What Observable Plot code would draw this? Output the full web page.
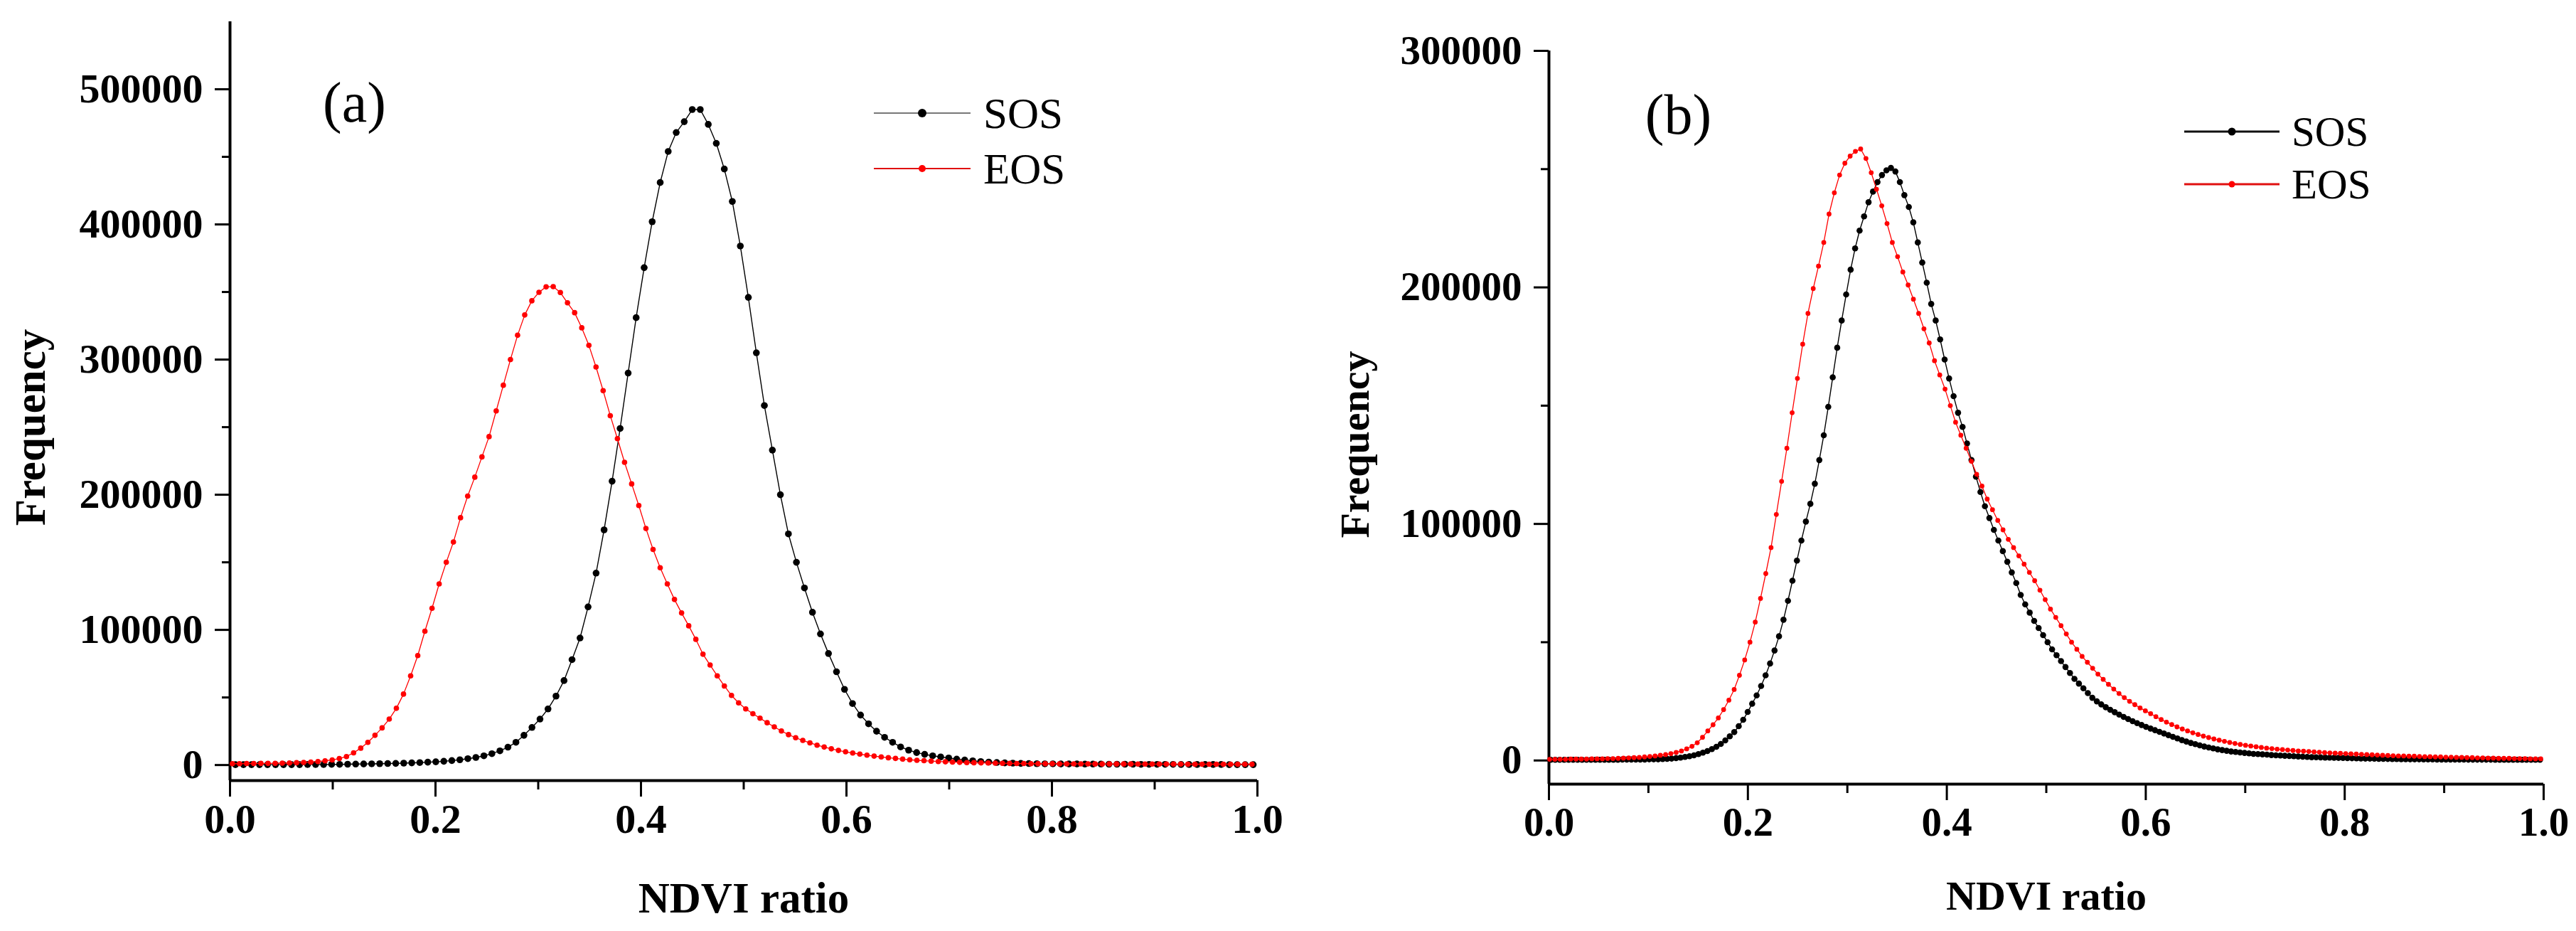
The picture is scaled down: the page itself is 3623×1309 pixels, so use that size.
<!DOCTYPE html>
<html>
<head>
<meta charset="utf-8">
<script src="https://cdn.jsdelivr.net/npm/d3@7"></script>
<script src="https://cdn.jsdelivr.net/npm/@observablehq/plot@0.6"></script>
<style>
  html, body { margin: 0; padding: 0; background: #fff; }
  #wrap { position: relative; width: 3623px; height: 1309px; overflow: hidden; background: #fff; }
  #chartA, #chartB { position: absolute; top: 0; }
  #chartA { left: 0; }
  #chartB { left: 1811px; }
</style>
</head>
<body>
<div id="wrap"><div id="chartA"></div><div id="chartB"></div></div>
<script>
// NDVI ratio bins (start, width) and frequencies in thousands

// (a) SOS
const sosAStart = 0.0053, sosAStep = 0.0078
const sosA = [
  0.3,0.3,0.3,0.3,0.3,0.3,0.3,0.3,0.3,0.4,0.4,0.4,
  0.5,0.5,0.6,0.7,0.8,0.9,1.0,1.1,1.2,
  1.4,1.6,1.8,2.1,2.4,2.8,3.3,3.9,4.7,5.6,
  6.8,8.4,10.5,13.2,16.8,22,27.8,34,41.5,51,
  62.5,78,94,117,142,174,210,249,290,331,
  368,402,431,454,468,476,485,485,474,460,
  441,417,384,346,305,266,233,200,171,150,
  131,113,97,82.5,69,56,45.5,37,30.5,25,
  20.5,16.8,13.4,11,9.2,7.9,6.8,6.0,5.2,4.4,
  3.7,3.1,2.6,2.2,1.9,1.6,1.4,1.2,1.1,1.0,
  0.9,0.9,0.8,0.8,0.8,0.7,0.7,0.7,0.6,0.6,
  0.6,0.6,0.5,0.5,0.5,0.5,0.5,0.4,0.4,0.4,
  0.4,0.4,0.4,0.3,0.3,0.3,0.3
]

// (a) EOS
const eosAStart = 0.0023, eosAStep = 0.00694
const eosA = [
  1.0,1.0,1.1,1.1,1.2,1.2,1.3,1.4,1.5,1.7,
  1.9,2.2,2.6,3.1,3.8,4.8,6.3,9.0,12.5,16.8,
  22,27.5,34,42,52.5,66,81,99,116,134,
  150,165,183,199,213,228,243,262,281,300,
  318,333,343.5,349.8,353.8,354,349.6,342,334.7,323.5,
  310.5,294.5,277,258.5,241.5,224,208,192,175,159.5,
  146,134,122.5,112.5,103,93,82,74,66,58.5,
  51.5,46,41.5,38,34.7,31.3,28.2,25.2,22.5,20.2,
  18.2,16.4,14.7,13.3,12.0,10.8,9.8,8.9,8.1,7.3,
  6.6,6.0,5.4,4.9,4.4,3.9,3.5,3.2,2.9,2.6,
  2.4,2.2,2.0,1.8,1.7,1.6,1.5,1.4,1.3,1.2,1.1,
  1.1,1.0,1.0,1.0,1.0,0.9,0.9,0.9,0.9,0.9,
  0.8,0.8,0.8,0.8,0.8,0.8,0.7,0.7,0.7,0.7,
  0.7,0.7,0.7,0.6,0.6,0.6,0.6,0.6,0.6,0.6,
  0.6,0.6,0.6
]

// (b) SOS
const sosBStart = 0.0018, sosBStep = 0.0045
const sosB = [
  0.3,0.3,0.3,0.3,0.3,0.3,0.3,0.3,0.3,0.3,0.3,0.3,0.3,0.3,0.3,0.3,0.4,0.4,0.4,0.4,
  0.4,0.4,0.5,0.5,0.5,0.6,0.7,0.8,1.0,1.2,
  1.5,1.8,2.2,2.7,3.3,4.0,4.8,5.8,7.0,8.5,
  10.2,12.0,14.5,17.2,20.5,24,27.5,31.5,36,41,
  46.5,52.5,59.5,67.5,76,84.5,93,101,108.5,117,
  127,137.5,149.5,162,174.5,186,197,207.5,216.5,224,
  230,236,240.5,244.5,247.5,249.5,250.5,249,244.5,239,
  234,227.5,219,210.5,202,193,186,178,169.5,161.5,
  154,147,141,134,127,120,113.5,107.5,102.5,97.5,
  93,88.5,84,79.5,75,70,66,62.5,59,56,
  53,50,47,44.5,42,39.5,37,34.5,32.5,30.5,
  28.5,26.5,25,23.7,22.5,21.4,20.4,19.4,18.4,17.5,
  16.6,15.8,15.0,14.2,13.5,12.8,12.1,11.4,10.7,10.0,
  9.3,8.6,8.0,7.4,6.9,6.4,5.9,5.5,5.1,4.7,
  4.4,4.1,3.8,3.6,3.4,3.2,3.0,2.8,2.7,2.6,
  2.5,2.3,2.2,2.1,2.0,1.9,1.8,1.7,1.6,1.5,
  1.4,1.35,1.3,1.25,1.2,1.15,1.1,1.05,1.0,0.95,
  0.9,0.85,0.8,0.8,0.75,0.7,0.7,0.65,0.6,0.6,
  0.55,0.55,0.5,0.5,0.5,0.45,0.45,0.45,0.4,0.4,
  0.4,0.4,0.4,0.4,0.4,0.35,0.35,0.35,0.35,0.35,
  0.35,0.3,0.3,0.3,0.3,0.3,0.3,0.3,0.3,0.3,0.3,0.3
]

// (b) EOS
const eosBStart = 0.0007, eosBStep = 0.0053
const eosB = [
  0.5,0.5,0.5,0.5,0.6,0.6,0.6,0.6,0.7,0.7,0.7,0.8,0.8,0.9,1.0,
  1.1,1.2,1.3,1.5,1.7,
  1.9,2.2,2.5,2.9,3.4,4.0,4.9,6.0,7.5,9.8,
  12.5,15.1,18,21.5,25.5,30,36,42.5,50,58.5,
  68.5,79,90,104,118,132,147,161.5,176,189,
  199.5,209,219,231,240,247.5,252.5,255.5,257.5,258.5,
  254.5,248.5,241.5,234.5,227,219,213,206.5,201,195,
  189,182.5,176.5,169,163,157,150,143,137.5,132,
  126.5,121,116,110.5,106,101.5,97.5,93.5,90,86.5,
  83,79.5,76,72,68,64,60.5,57,53.5,50,
  47,44,41.5,39,36.5,34.3,32.2,30.2,28.3,26.6,
  25,23.6,22.2,21,19.8,18.5,17.3,16.2,15.2,14.2,
  13.3,12.5,11.7,11,10.3,9.7,9.1,8.6,8.1,7.6,
  7.2,6.8,6.4,6.1,5.8,5.5,5.2,5.0,4.8,4.6,
  4.4,4.2,4.0,3.9,3.8,3.6,3.5,3.3,3.2,3.1,
  3.0,2.9,2.8,2.7,2.6,2.5,2.4,2.3,2.2,2.1,
  2.0,1.9,1.9,1.8,1.8,1.7,1.6,1.6,1.5,1.5,
  1.4,1.4,1.3,1.3,1.2,1.2,1.1,1.1,1.0,1.0,
  0.9,0.9,0.9,0.8,0.8,0.8,0.7,0.7,0.7
]

const seriesNames = ["SOS", "EOS"]
const xMajor = [0, 0.2, 0.4, 0.6, 0.8, 1.0]
const xMinor = [0.1, 0.3, 0.5, 0.7, 0.9]
const yMajorA = [0, 100000, 200000, 300000, 400000, 500000]
const yMinorA = [50000, 150000, 250000, 350000, 450000]
const yMajorB = [0, 100000, 200000, 300000]
const yMinorB = [50000, 150000, 250000]

const serif = "'Liberation Serif', 'Times New Roman', serif"

function toRows(values, start, step) {
  return values.map((v, i) => ({x: start + step * i, y: v * 1000}))
}

function panel(o) {
  const chart = Plot.plot({
    width: o.width,
    height: 1309,
    marginLeft: o.ml, marginRight: o.mr, marginTop: o.mt, marginBottom: o.mb,
    style: {fontFamily: serif, background: "white", maxWidth: "none", color: "black", overflow: "visible"},
    x: {domain: [0, 1]},
    y: {domain: o.yDomain},
    marks: [
      Plot.axisY({ticks: o.yMajor, tickSize: 21, tickPadding: 17, strokeWidth: 3,
        tickFormat: d3.format("d"), fontSize: o.tickFont, fontWeight: "bold", label: null}),
      Plot.axisY({ticks: o.yMinor, tickSize: 11, strokeWidth: 3, tickFormat: () => "", label: null}),
      Plot.axisX({ticks: xMajor, tickSize: 23, tickPadding: 9, strokeWidth: 3,
        tickFormat: d3.format(".1f"), fontSize: o.tickFont, fontWeight: "bold", label: null}),
      Plot.axisX({ticks: xMinor, tickSize: 13, strokeWidth: 3, tickFormat: () => "", label: null}),
      Plot.ruleX([0], {strokeWidth: 4}),
      Plot.ruleY([o.yDomain[0]], {strokeWidth: 4}),

      Plot.line(o.sos, {x: "x", y: "y", stroke: "black", strokeWidth: 1.4}),
      Plot.dot(o.sos, {x: "x", y: "y", r: o.rSos, fill: "black"}),
      Plot.line(o.eos, {x: "x", y: "y", stroke: "#ff0000", strokeWidth: 1.3}),
      Plot.dot(o.eos, {x: "x", y: "y", r: o.rEos, fill: "#ff0000"}),

      Plot.text(["Frequency"], {text: d => d, frameAnchor: "left", rotate: -90,
        textAnchor: "middle", lineAnchor: "middle", dx: o.freqDx, dy: o.freqDy,
        fontSize: o.labelFont, fontWeight: "bold"}),
      Plot.text(["NDVI ratio"], {text: d => d, frameAnchor: "bottom",
        textAnchor: "middle", lineAnchor: "middle", dy: o.ndviDy,
        fontSize: o.labelFont, fontWeight: "bold"}),
      Plot.text([o.tag], {text: d => d, frameAnchor: "top-left",
        textAnchor: "middle", lineAnchor: "middle", dx: o.tagDx, dy: o.tagDy,
        fontSize: 80})
    ]
  })

  // legend: line sample with a marker, then the name
  const lg = o.legend
  const g = d3.select(chart).append("g")
  seriesNames.forEach((name, i) => {
    const y = lg.y0 + i * lg.dy
    const col = i == 0 ? lg.sosLine : "#e01010"
    g.append("line").attr("x1", lg.x1).attr("x2", lg.x2).attr("y1", y).attr("y2", y)
      .attr("stroke", col).attr("stroke-width", lg.sw)
    g.append("circle").attr("cx", (lg.x1 + lg.x2) / 2).attr("cy", y)
      .attr("r", i == 0 ? lg.r : lg.r - 1).attr("fill", i == 0 ? "black" : "#ff0000")
    g.append("text").attr("x", lg.tx).attr("y", y + lg.base)
      .attr("text-anchor", "start")
      .attr("font-family", serif).attr("font-size", lg.font).attr("fill", "black")
      .text(name)
  })
  return chart
}

const chartA = panel({
  width: 1811, ml: 323, mr: 43, mt: 30, mb: 212,
  yDomain: [-11500, 550000], yMajor: yMajorA, yMinor: yMinorA,
  sos: toRows(sosA, sosAStart, sosAStep), eos: toRows(eosA, eosAStart, eosAStep),
  rSos: 4.8, rEos: 3.8, tickFont: 58, labelFont: 61,
  freqDx: -280, freqDy: 37, ndviDy: 166,
  tag: "(a)", tagDx: 175, tagDy: 115,
  legend: {x1: 1229, x2: 1365, y0: 159, dy: 78, tx: 1383, base: 21, font: 61, sw: 2, r: 6, sosLine: "#777"}
})

const chartB = panel({
  width: 1812, ml: 367, mr: 46, mt: 71, mb: 207,
  yDomain: [-10000, 300000], yMajor: yMajorB, yMinor: yMinorB,
  sos: toRows(sosB, sosBStart, sosBStep), eos: toRows(eosB, eosBStart, eosBStep),
  rSos: 4.3, rEos: 3.4, tickFont: 57, labelFont: 58,
  freqDx: -272, freqDy: 38, ndviDy: 158,
  tag: "(b)", tagDx: 182, tagDy: 91,
  legend: {x1: 1261, x2: 1395, y0: 185, dy: 74, tx: 1412, base: 20, font: 59, sw: 3, r: 5.5, sosLine: "#111"}
})

d3.select('#chartA').append(() => chartA)
d3.select('#chartB').append(() => chartB)
</script>
</body>
</html>
